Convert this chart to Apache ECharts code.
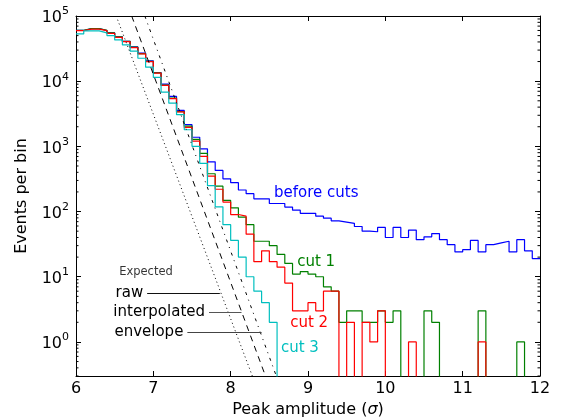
<!DOCTYPE html>
<html>
<head>
<meta charset="utf-8">
<script src="https://cdn.jsdelivr.net/npm/echarts@6/dist/echarts.min.js"></script>
<style>
html, body { margin: 0; padding: 0; background: #fff; }
#chart { width: 562px; height: 417px; }
</style>
</head>
<body>
<div id="chart"></div>
<script>
// histogram bins: 6.0 .. 12.0, width 0.1 (60 bins)
const binStart = 6.0;
const binWidth = 0.1;

const beforeCuts = [
  60000, 64000, 64000, 60000, 55000, 48000, 41000, 33500, 27000, 20500,
  13600, 9000, 5830, 3560, 2150, 1380, 916, 580, 427, 318,
  277, 214, 188, 157, 157, 133, 133, 117, 105, 94,
  94, 85, 79, 72, 69, 66, 59, 50, 49, 57,
  40, 57, 40, 52, 37, 41, 46, 37, 31, 24,
  26, 36, 24, 31, 33, 35, 24, 37, 25, 19
];
const cut1 = [
  60500, 64000, 64000, 60500, 55000, 47800, 41000, 33200, 26500, 20200,
  13400, 8700, 5500, 3400, 2050, 1280, 780, 380, 245, 148,
  114, 82, 63, 35, 35, 30, 22, 16, 11, 12,
  11, 10, 7, 6, 2, 3, 3, 2, 2, 3,
  2, 3, 0, 0, 0, 3, 2, 0, 0, 0,
  0, 0, 3, 0, 0, 0, 0, 1, 0, 0
];
const cut2 = [
  59600, 63000, 63000, 59600, 54000, 47000, 40400, 32700, 26200, 20000,
  13300, 8600, 5400, 3370, 1950, 1200, 700, 350, 220, 140,
  90, 85, 45, 17, 25, 17, 14, 8, 3, 3,
  4, 3, 6, 6, 0, 2, 0, 2, 1, 3,
  0, 0, 0, 1, 0, 0, 0, 0, 0, 0,
  0, 0, 1, 0, 0, 0, 0, 0, 0, 0
];
const cut3 = [
  53000, 59000, 59000, 55000, 50000, 43000, 36000, 29000, 22500, 16400,
  11400, 6800, 4600, 3060, 1800, 1000, 550, 250, 118, 63,
  36, 20, 10, 6, 4, 2, 0, 0, 0, 0,
  0, 0, 0, 0, 0, 0, 0, 0, 0, 0,
  0, 0, 0, 0, 0, 0, 0, 0, 0, 0,
  0, 0, 0, 0, 0, 0, 0, 0, 0, 0
];

// expected curves (straight on the log plot), read at the frame edges
const expectedRaw = [[6.52, 1e5], [8.28, 0.3]];
const expectedInterp = [[6.72, 1e5], [8.45, 0.3]];
const expectedEnvelope = [[6.89, 1e5], [8.59, 0.3]];

const xTicks = [6, 7, 8, 9, 10, 11, 12];
const minorMultipliers = [2, 3, 4, 5, 6, 7, 8, 9];
const minorDecades = [0.1, 1, 10, 100, 1000, 10000];

const FONT = 'DejaVu Sans';
const yMin = 0.3, yMax = 1e5;

// zero counts fall below the frame and get clipped away
function toSteps(counts) {
  const pts = counts.map((c, i) => [+(binStart + i * binWidth).toFixed(1), c > 0 ? c : 0.01]);
  pts.push([binStart + counts.length * binWidth, pts[pts.length - 1][1]]);
  return pts;
}

const minorTicks = [];
minorDecades.forEach(d => minorMultipliers.forEach(m => {
  const v = m * d;
  if (v > yMin && v < yMax) minorTicks.push([6, v]);
}));

function histSeries(name, counts, color, label, labelAt) {
  return {
    name: name, type: 'line', step: 'end', data: toSteps(counts),
    symbol: 'none', clip: true,
    lineStyle: { color: color, width: 1.2 },
    markPoint: {
      symbol: 'circle', symbolSize: 0, silent: true,
      label: { show: true, position: 'right', distance: 0, color: color,
        fontFamily: FONT, fontSize: 15, formatter: label },
      data: [{ coord: labelAt }]
    }
  };
}

function expectedSeries(name, data, dash, pointer) {
  return {
    name: name, type: 'line', data: data, symbol: 'none', clip: true,
    lineStyle: { color: '#000', width: 1, type: dash },
    markLine: {
      symbol: 'none', silent: true,
      lineStyle: { color: pointer.color, width: 1, type: 'solid' },
      label: { show: true, position: 'start', distance: 4, color: '#000',
        fontFamily: FONT, fontSize: 15, formatter: pointer.text },
      data: [[{ coord: [pointer.from, pointer.y] }, { coord: [pointer.to, pointer.y] }]]
    }
  };
}

const chart = echarts.init(document.getElementById('chart'));

const axisCommon = {
  axisLine: { show: true, lineStyle: { color: '#000', width: 1 } },
  axisTick: { show: true, inside: true, length: 5, lineStyle: { color: '#000' } },
  splitLine: { show: false }
};

function yLabel(v) {
  const e = Math.log10(v);
  if (Math.abs(e - Math.round(e)) > 1e-6) return '';
  return '{b|10}{s|' + Math.round(e) + '}';
}

chart.setOption({
  animation: false,
  backgroundColor: '#fff',
  grid: { left: 76, right: 22, top: 16, bottom: 41, containLabel: false, outerBoundsMode: 'none' },
  xAxis: [
    Object.assign({
      type: 'value', min: 6, max: 12, interval: 1, position: 'bottom',
      name: 'Peak amplitude ({i|σ})', nameLocation: 'middle', nameGap: 21,
      nameTextStyle: { fontFamily: FONT, fontSize: 16, color: '#000',
        rich: { i: { fontFamily: FONT, fontSize: 16, color: '#000', fontStyle: 'italic' } } },
      axisLabel: { fontFamily: FONT, fontSize: 16, color: '#000', margin: 5,
        formatter: v => (xTicks.indexOf(v) >= 0 ? String(v) : '') }
    }, axisCommon),
    Object.assign({
      type: 'value', min: 6, max: 12, interval: 1, position: 'top',
      axisLabel: { show: false }
    }, axisCommon)
  ],
  yAxis: [
    Object.assign({
      type: 'log', logBase: 10, min: yMin, max: yMax, position: 'left',
      name: 'Events per bin', nameLocation: 'middle', nameGap: 46,
      nameTextStyle: { fontFamily: FONT, fontSize: 16, color: '#000' },
      axisLabel: {
        margin: 7, formatter: yLabel,
        rich: {
          b: { fontFamily: FONT, fontSize: 16, color: '#000', lineHeight: 12, verticalAlign: 'bottom' },
          s: { fontFamily: FONT, fontSize: 11, color: '#000', lineHeight: 20, verticalAlign: 'top' }
        }
      }
    }, axisCommon),
    Object.assign({
      type: 'log', logBase: 10, min: yMin, max: yMax, position: 'right',
      axisLabel: { show: false }
    }, axisCommon)
  ],
  series: [
    histSeries('before cuts', beforeCuts, '#0000ff', 'before cuts', [8.56, 190]),
    histSeries('cut 1', cut1, '#008000', 'cut 1', [8.86, 16.8]),
    histSeries('cut 2', cut2, '#ff0000', 'cut 2', [8.77, 1.95]),
    histSeries('cut 3', cut3, '#00bfbf', 'cut 3', [8.65, 0.8]),
    expectedSeries('raw', expectedRaw, [1, 3],
      { text: 'raw', from: 6.92, to: 7.86, y: 5.6, color: '#111' }),
    expectedSeries('interpolated', expectedInterp, [6, 5],
      { text: 'interpolated', from: 7.72, to: 8.14, y: 2.88, color: '#555' }),
    expectedSeries('envelope', expectedEnvelope, [3, 5, 1, 5],
      { text: 'envelope', from: 7.44, to: 8.40, y: 1.42, color: '#444' }),
    {
      name: 'Expected label', type: 'scatter', symbolSize: 0, silent: true,
      data: [[6.905, 11.7]],
      label: { show: true, position: 'inside', formatter: 'Expected',
        fontFamily: FONT, fontSize: 11.5, color: '#000' }
    },
    {
      name: 'minor ticks', type: 'custom', silent: true, data: minorTicks,
      encode: { x: 0, y: 1 },
      renderItem: function (params, api) {
        const l = api.coord([6, api.value(1)]);
        const r = api.coord([12, api.value(1)]);
        const st = { stroke: '#000', lineWidth: 1 };
        return {
          type: 'group', children: [
            { type: 'line', shape: { x1: l[0], y1: l[1], x2: l[0] + 2.5, y2: l[1] }, style: st },
            { type: 'line', shape: { x1: r[0], y1: r[1], x2: r[0] - 2.5, y2: r[1] }, style: st }
          ]
        };
      }
    }
  ]
});
</script>
</body>
</html>
